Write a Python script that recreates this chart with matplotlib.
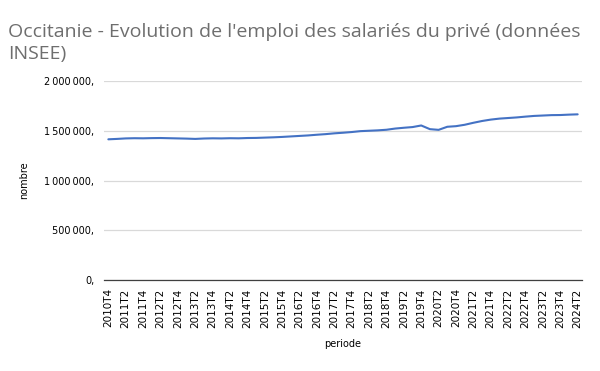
import numpy as np
import matplotlib
matplotlib.use("Agg")
import matplotlib.pyplot as plt
from matplotlib.ticker import FuncFormatter

# quarterly periods 2010T4 -> 2024T2
periods = []
for year in range(2010, 2025):
    for q in range(1, 5):
        p = f"{year}T{q}"
        periods.append(p)
periods = periods[periods.index("2010T4"):periods.index("2024T2") + 1]

# salaried private employment, Occitanie
emploi = [
    1414000, 1418000, 1423000, 1425000, 1424000, 1426000, 1427000, 1425000,
    1423000, 1421000, 1418000, 1422000, 1424000, 1423000, 1425000, 1424000,
    1427000, 1428000, 1431000, 1434000, 1438000, 1443000, 1448000, 1453000,
    1460000, 1466000, 1474000, 1480000, 1487000, 1496000, 1500000, 1504000,
    1510000, 1522000, 1530000, 1537000, 1553000, 1516000, 1509000, 1540000,
    1546000, 1560000, 1580000, 1598000, 1612000, 1622000, 1628000, 1634000,
    1642000, 1649000, 1653000, 1657000, 1658000, 1662000, 1665000,
]

title = "Occitanie - Evolution de l'emploi des salariés du privé (données\nINSEE)"


def fmt_nombre(v, pos):
    s = f"{int(v):,}".replace(",", "\u2009")
    return s + ","


fig = plt.figure(figsize=(6, 3.71), dpi=100)
ax = fig.add_axes([104 / 600, 1 - 280 / 371, (582 - 104) / 600, (280 - 81) / 371])

x = np.arange(len(periods))
ax.plot(x, emploi, color="#4472C4", linewidth=1.5, solid_capstyle="round")

ax.set_xlim(-0.5, len(periods) - 0.5)
ax.set_ylim(0, 2000000)
ax.set_yticks(np.arange(0, 2000001, 500000))
ax.yaxis.set_major_formatter(FuncFormatter(fmt_nombre))
ax.set_xticks(x[::2])
ax.set_xticklabels(periods[::2], rotation=90, fontsize=7.5)

ax.grid(axis="y", color="#d9d9d9", linewidth=0.9)
ax.set_axisbelow(True)
for side in ["top", "right", "left"]:
    ax.spines[side].set_visible(False)
ax.spines["bottom"].set_color("#404040")
ax.spines["bottom"].set_linewidth(0.9)
ax.tick_params(axis="x", length=0, pad=6, colors="black")
ax.tick_params(axis="y", length=0, pad=7, labelsize=7, colors="black")

ax.set_xlabel("periode", fontsize=7, labelpad=8)
ax.set_ylabel("nombre", fontsize=7, labelpad=11)

fig.text(8 / 600, 1 - 23 / 371, title, fontsize=14.0, color="#6e6e6e",
         family="Open Sans", va="top", ha="left", linespacing=1.3)

fig.savefig("out.png", dpi=100)
